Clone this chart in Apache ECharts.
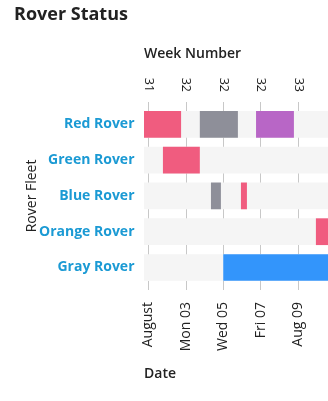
<!DOCTYPE html>
<html><head><meta charset="utf-8">
<script src="https://cdn.jsdelivr.net/npm/echarts@6/dist/echarts.min.js"></script>
<style>html,body{margin:0;padding:0;background:#fff}#c{width:328px;height:401px}</style>
</head><body><div id="c"></div>
<script>
var rovers = ['Red Rover','Green Rover','Blue Rover','Orange Rover','Gray Rover'];
var taskRover = [0, 0, 0, 1, 2, 2, 3, 4];
var taskStart = ['2020-07-31T12:00','2020-08-03T18:00','2020-08-06T18:00','2020-08-01T18:45','2020-08-04T08:15','2020-08-05T22:40','2020-08-09T22:40','2020-08-05T00:00'];
var taskEnd   = ['2020-08-02T18:00','2020-08-05T18:45','2020-08-08T18:30','2020-08-03T18:00','2020-08-04T21:00','2020-08-06T06:20','2020-08-11T12:00','2020-08-11T12:00'];
var taskColor = ['#f05c7f','#8e8f99','#b866c6','#f05c7f','#8e8f99','#f05c7f','#f05c7f','#3395fb'];
var tickDates = ['2020-08-01T00:00','2020-08-03T00:00','2020-08-05T00:00','2020-08-07T00:00','2020-08-09T00:00'];
var dateLabels = ['August','Mon 03','Wed 05','Fri 07','Aug 09'];
var weekLabels = ['31','32','32','32','33'];
var axisMin = '2020-07-31T18:30';
var axisMax = '2020-08-10T14:10';

function ts(s){ return +new Date(s + ':00'); }
var tickTs = tickDates.map(ts);
function lookup(arr){ return function(v){ var i = tickTs.indexOf(+v); return i < 0 ? '' : arr[i]; }; }

var taskData = taskRover.map(function(r, i){ return {value:[r, ts(taskStart[i]), ts(taskEnd[i])], itemStyle:{color:taskColor[i]}}; });
var bgData = rovers.map(function(r, i){ return [i]; });

var FONT = "'Open Sans', sans-serif";
var chart = echarts.init(document.getElementById('c'), null, {renderer:'canvas'});

function barRect(params, api, x0, x1){
  var yc = api.coord([x0, api.value(0)])[1];
  var h = api.size([0,1])[1] * 0.747;
  var cs = params.coordSys;
  var p0 = api.coord([x0, api.value(0)])[0];
  var p1 = api.coord([x1, api.value(0)])[0];
  return echarts.graphic.clipRectByRect({x:p0, y:yc - h/2, width:p1-p0, height:h}, {x:cs.x, y:0, width:cs.width, height:2000});
}

var xCommon = {
  type:'value', min: ts(axisMin), max: ts(axisMax), scale:true,
  axisLine:{show:false},
  axisTick:{show:true, length:9, lineStyle:{color:'#c8c8c8'}, customValues: tickTs},
  splitLine:{show:false}
};

chart.setOption({
  animation:false,
  textStyle:{fontFamily:FONT},
  title:[
    {text:'Rover Status', left:9, top:1, textStyle:{fontFamily:FONT, fontSize:18, fontWeight:'bold', color:'#222'}},
    {text:'Week Number', left:139, top:42, textStyle:{fontFamily:FONT, fontSize:14, fontWeight:600, color:'#222'}},
    {text:'Date', left:139, top:362, textStyle:{fontFamily:FONT, fontSize:14, fontWeight:600, color:'#222'}}
  ],
  grid:{left:144, right:0, top:124.3, bottom:133.5, containLabel:false},
  xAxis:[
    Object.assign({}, xCommon, {position:'bottom', offset:13.5,
      axisLabel:{customValues: tickTs, rotate:90, margin:21, fontSize:14, color:'#222', fontFamily:FONT, formatter: lookup(dateLabels), hideOverlap:false},
      splitLine:{show:true, lineStyle:{color:'#c8c8c8', width:1}}
    }),
    Object.assign({}, xCommon, {position:'top', offset:13.3,
      axisLabel:{customValues: tickTs, rotate:90, margin:19, fontSize:12.5, color:'#222', fontFamily:FONT, formatter: lookup(weekLabels), hideOverlap:false}
    })
  ],
  yAxis:{
    type:'category', data: rovers, inverse:true, boundaryGap:false,
    axisLine:{show:false}, axisTick:{show:false}, splitLine:{show:false},
    axisLabel:{margin:9.5, fontSize:14, fontWeight:'bold', color:'#1b9ad4', fontFamily:FONT, interval:0},
    name:'Rover Fleet', nameLocation:'middle', nameGap:105, nameRotate:90, nameMoveOverlap:false,
    nameTextStyle:{fontSize:14, fontWeight:'normal', color:'#222', fontFamily:FONT}
  },
  series:[
    {type:'custom', data:bgData, encode:{y:0}, silent:true, z:1,
     renderItem:function(params, api){
       var cs = params.coordSys;
       var yc = api.coord([ts(axisMin), api.value(0)])[1];
       var h = api.size([0,1])[1] * 0.747;
       return {type:'rect', shape:{x:cs.x, y:yc-h/2, width:cs.width, height:h}, style:{fill:'#f5f5f5'}};
     }},
    {type:'custom', data:taskData, encode:{x:[1,2], y:0}, z:2,
     renderItem:function(params, api){
       var r = barRect(params, api, api.value(1), api.value(2));
       if(!r) return null;
       return {type:'rect', shape:r, style:{fill: api.visual('color')}};
     }}
  ]
});
</script>
</body></html>
